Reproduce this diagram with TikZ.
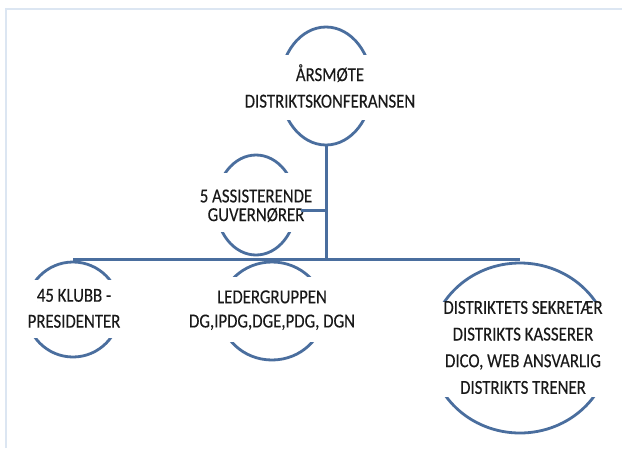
\documentclass[tikz,border=0pt]{standalone}
\usepackage{fontspec}
\setmainfont{Carlito}[FakeBold=0.25]
\usetikzlibrary{shapes.geometric}
\definecolor{lineblue}{RGB}{74,110,158}
\definecolor{framecol}{RGB}{220,230,242}
\definecolor{txt}{RGB}{25,25,25}
\newcommand\mylbl[2]{\scalebox{1}[1.18]{\fontsize{16.8}{#1}\selectfont\begin{tabular}{@{}c@{}}#2\end{tabular}}}
\tikzset{
  ring/.style={ellipse, draw=lineblue, line width=2.8pt, inner sep=0pt},
  cover/.style={fill=white, inner sep=0pt},
  lbl/.style={inner sep=0pt, text=txt},
  conn/.style={draw=lineblue, line width=3pt}
}
\begin{document}
\begin{tikzpicture}[x=1pt,y=-1pt]
\useasboundingbox (0,0) rectangle (622,448);
\fill[white] (0,0) rectangle (622,448);
\draw[framecol, line width=2pt] (6,448) -- (6,9) -- (622,9);
% rings
\node[ring, minimum width=92, minimum height=118] (top) at (326,86) {};
\node[ring, minimum width=80, minimum height=100] (assist) at (256,205) {};
\node[ring, minimum width=94, minimum height=95] (klubb) at (73,309.5) {};
\node[ring, minimum width=104, minimum height=98] (leder) at (272,311) {};
\node[ring, minimum width=180, minimum height=170] (right) at (520,348) {};
% covers hiding the sides of the rings
\node[cover, minimum width=176, minimum height=65] (topC) at (326,87.5) {};
\node[cover, minimum width=118, minimum height=59] (assistC) at (256,202.5) {};
\node[cover, minimum width=100, minimum height=58] (klubbC) at (73,309) {};
\node[cover, minimum width=150, minimum height=65] (lederC) at (272,309.5) {};
\node[cover, minimum width=186, minimum height=95] (rightC) at (520,349.5) {};
% labels
\node[lbl] (topT) at (330,89) {\mylbl{22.5}{ÅRSMØTE\\DISTRIKTSKONFERANSEN}};
\node[lbl] (assistT) at (256,208) {\mylbl{15.3}{5 ASSISTERENDE\\GUVERNØRER}};
\node[lbl] (klubbT) at (74,309.5) {\mylbl{22}{45 KLUBB -\\PRESIDENTER}};
\node[lbl] (lederT) at (272,310.5) {\mylbl{20.5}{LEDERGRUPPEN\\DG,IPDG,DGE,PDG, DGN}};
\node[lbl] (rightT) at (523,348.5) {\mylbl{22.6}{DISTRIKTETS SEKRETÆR\\DISTRIKTS KASSERER\\DICO, WEB ANSVARLIG\\DISTRIKTS TRENER}};
% connectors
\coordinate (barY) at (0,259);
\coordinate (j) at (top.south |- barY);
\coordinate (as) at (301,210);
\draw[conn] (top.south) -- (j);
\draw[conn] (klubb.north |- j) -- (right.north |- j);
\draw[conn] (as) -- (top.south |- as);
\end{tikzpicture}
\end{document}
